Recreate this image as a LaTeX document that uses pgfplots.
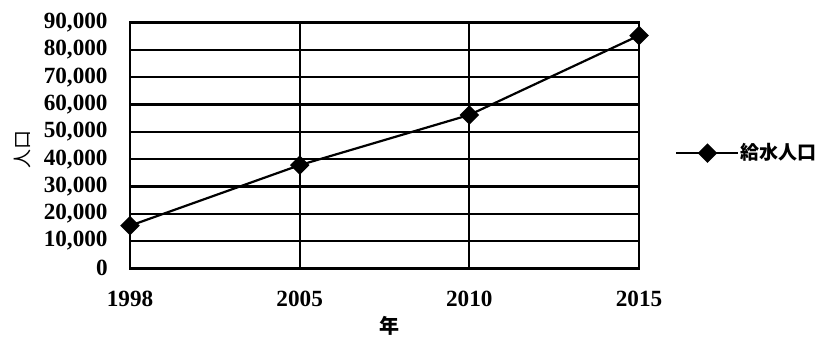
\documentclass[border=0pt]{standalone}
\usepackage{fontspec}
\setmainfont{Liberation Serif}
\newfontfamily\cjk{Noto Sans CJK JP}
\usepackage{pgfplots}
\pgfplotsset{compat=1.18}
\begin{document}
\begin{tikzpicture}
\begin{axis}[
  name=ax,
  scale only axis,
  width=254.5pt, height=122.8pt,
  xmin=0, xmax=3, ymin=0, ymax=90000,
  xtick={0,1,2,3},
  xticklabels={1998,2005,2010,2015},
  ytick={0,10000,20000,30000,40000,50000,60000,70000,80000,90000},
  scaled y ticks=false,
  major tick length=0pt,
  /pgf/number format/assume math mode=true,
  ticklabel style={font=\fontsize{11.6}{12}\selectfont\bfseries},
  yticklabel style={/pgf/number format/.cd, fixed, 1000 sep={,}, /tikz/.cd, inner xsep=0pt, xshift=-11pt},
  xticklabel style={inner ysep=0pt, yshift=-11pt},
  grid=major,
  major grid style={black, line width=1.15pt},
  axis line style={black, line width=1.4pt},
  xlabel={\cjk\bfseries 年},
  xlabel style={at={(axis description cs:0.51,-0.236)}, anchor=center, font=\fontsize{10}{12}\selectfont},
  ylabel={\cjk 人口},
  ylabel style={at={(axis description cs:-0.212,0.485)}, anchor=center, font=\fontsize{9.5}{11}\selectfont},
  legend style={at={(axis description cs:1.0707,0.469)}, anchor=west, draw=none, fill=none,
    inner sep=0pt, column sep=0pt, font=\cjk\bfseries\fontsize{9.5}{11}\selectfont,
    nodes={inner xsep=0.5pt, inner ysep=0pt}},
  legend image code/.code={\draw[mark repeat=2, mark phase=2, #1] plot coordinates {(0pt,0pt) (15.5pt,0pt) (31pt,0pt)};},
]
\addplot[black, line width=1.1pt, mark=square*, mark size=2.9pt, mark options={solid, fill=black, rotate=45}]
  coordinates {(0,15600) (1,37800) (2,56200) (3,85300)};
\addlegendentry{給水人口}
\end{axis}
% fixed frame around the plot
\path ([shift={(-65pt,-35.35pt)}]ax.south west) rectangle ([shift={(91pt,11.35pt)}]ax.north east);
\end{tikzpicture}
\end{document}
